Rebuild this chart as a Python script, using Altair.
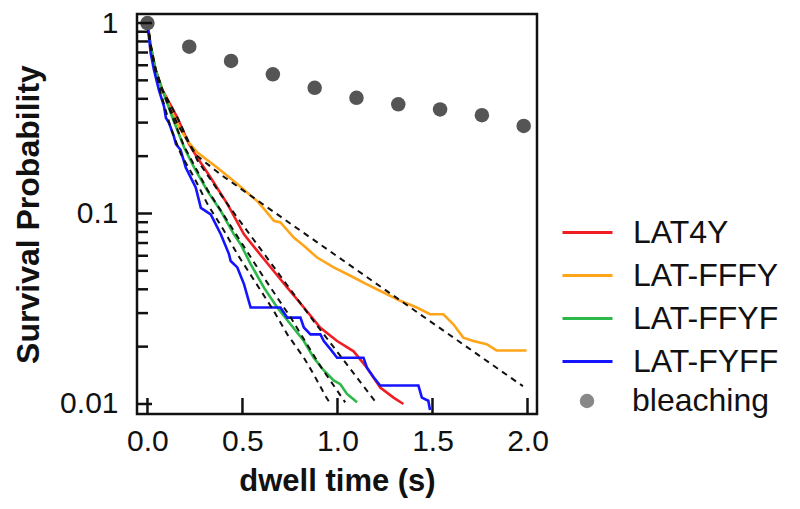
import altair as alt
import pandas as pd

# ---------------- data ----------------
series_names = ["LAT4Y", "LAT-FFFY", "LAT-FFYF", "LAT-FYFF"]
series_colors = ["#f01e23", "#ffa51a", "#2db84a", "#1414ff"]
bleach_name = ["bleaching"]
bleach_color = ["#555555"]

lat4y_t = [0.0, 0.017, 0.043, 0.078, 0.158, 0.219, 0.263, 0.333, 0.421, 0.508, 0.578, 0.648,
           0.736, 0.823, 0.910, 0.998, 1.085, 1.155, 1.225, 1.295, 1.347]
lat4y_p = [1.0, 0.755, 0.568, 0.447, 0.318, 0.231, 0.196, 0.154, 0.112, 0.0777, 0.0636, 0.0522,
           0.0408, 0.0321, 0.0251, 0.0214, 0.0189, 0.0155, 0.0122, 0.0108, 0.0100]

fffy_t = [0.0, 0.017, 0.043, 0.078, 0.122, 0.165, 0.211, 0.263, 0.368, 0.473, 0.578, 0.630,
          0.665, 0.700, 0.770, 0.823, 0.893, 0.980, 1.068, 1.155, 1.242, 1.330, 1.418, 1.487,
          1.557, 1.610, 1.662, 1.715, 1.785, 1.837, 1.995]
fffy_p = [1.0, 0.755, 0.568, 0.447, 0.351, 0.287, 0.240, 0.209, 0.174, 0.143, 0.116, 0.101,
          0.0915, 0.0898, 0.0748, 0.0677, 0.0587, 0.0521, 0.0471, 0.0425, 0.0385, 0.0348, 0.0321,
          0.0296, 0.0296, 0.0262, 0.0223, 0.0214, 0.0206, 0.0191, 0.0191]

ffyf_t = [0.0, 0.017, 0.043, 0.078, 0.132, 0.193, 0.246, 0.316, 0.386, 0.455, 0.491, 0.543,
          0.613, 0.683, 0.753, 0.823, 0.875, 0.928, 0.980, 1.015, 1.050, 1.103]
ffyf_p = [1.0, 0.755, 0.568, 0.447, 0.318, 0.222, 0.174, 0.131, 0.103, 0.0777, 0.0688, 0.0543,
          0.0408, 0.0321, 0.0262, 0.0214, 0.0175, 0.0150, 0.0133, 0.0127, 0.0113, 0.0102]

fyff_t = [0.0, 0.017, 0.034, 0.060, 0.087, 0.097, 0.113, 0.139, 0.150, 0.174, 0.202, 0.254,
          0.281, 0.333, 0.386, 0.429, 0.438, 0.473, 0.508, 0.543, 0.700, 0.736, 0.805, 0.823,
          0.858, 0.910, 0.928, 0.963, 0.998, 1.137, 1.155, 1.190, 1.225, 1.426, 1.444, 1.478, 1.487]
fyff_p = [1.0, 0.696, 0.569, 0.446, 0.365, 0.318, 0.299, 0.254, 0.231, 0.216, 0.174, 0.137,
          0.107, 0.0990, 0.0778, 0.0612, 0.0563, 0.0521, 0.0426, 0.0321, 0.0321, 0.0284, 0.0284,
          0.0252, 0.0232, 0.0232, 0.0214, 0.0194, 0.0175, 0.0175, 0.0155, 0.0138, 0.0125, 0.0125,
          0.0108, 0.0104, 0.0093]

# dashed fit curves
fit_lat4y_t = [0.0, 0.017, 0.043, 0.078, 0.158, 0.263, 0.421, 0.875, 1.199]
fit_lat4y_p = [1.0, 0.755, 0.568, 0.447, 0.318, 0.190, 0.112, 0.0272, 0.0103]
fit_fffy_t = [0.0, 0.017, 0.043, 0.078, 0.122, 0.165, 0.218, 0.263, 0.386, 0.744, 1.976]
fit_fffy_p = [1.0, 0.755, 0.568, 0.447, 0.351, 0.287, 0.234, 0.200, 0.160, 0.0897, 0.0124]
fit_ffyf_t = [0.0, 0.017, 0.043, 0.078, 0.132, 0.193, 0.316, 0.455, 0.613, 0.753, 0.910, 1.041]
fit_ffyf_p = [1.0, 0.755, 0.568, 0.447, 0.320, 0.225, 0.133, 0.081, 0.046, 0.0285, 0.0158, 0.0102]
fit_fyff_t = [0.0, 0.030, 0.070, 0.123, 0.176, 0.246, 0.316, 0.403, 0.473, 0.665, 0.736, 0.823,
              0.875, 0.937, 0.955]
fit_fyff_p = [1.0, 0.640, 0.430, 0.280, 0.205, 0.154, 0.112, 0.0812, 0.0612, 0.0308, 0.0232,
              0.0175, 0.0143, 0.0110, 0.0103]

bleach_t = [0.0, 0.22, 0.44, 0.66, 0.88, 1.10, 1.32, 1.54, 1.76, 1.98]
bleach_p = [1.0, 0.751, 0.632, 0.538, 0.457, 0.405, 0.374, 0.352, 0.328, 0.288]

x_ticks = [0.0, 0.5, 1.0, 1.5, 2.0]
y_major = [0.01, 0.1, 1.0]
y_minor = [0.02, 0.03, 0.04, 0.05, 0.06, 0.07, 0.08, 0.09,
           0.2, 0.3, 0.4, 0.5, 0.6, 0.7, 0.8, 0.9]

# ---------------- tables ----------------
def long(name, ts, ps):
    return pd.DataFrame({"series": name, "t": ts, "p": ps, "i": range(len(ts))})

curves = pd.concat([
    long("LAT4Y", lat4y_t, lat4y_p),
    long("LAT-FFFY", fffy_t, fffy_p),
    long("LAT-FFYF", ffyf_t, ffyf_p),
    long("LAT-FYFF", fyff_t, fyff_p),
])
fits = pd.concat([
    long("LAT4Y", fit_lat4y_t, fit_lat4y_p),
    long("LAT-FFFY", fit_fffy_t, fit_fffy_p),
    long("LAT-FFYF", fit_ffyf_t, fit_ffyf_p),
    long("LAT-FYFF", fit_fyff_t, fit_fyff_p),
])
bleach = pd.DataFrame({"t": bleach_t, "p": bleach_p, "lab": "bleaching"})
xt = pd.DataFrame({"t": x_ticks})
ymaj = pd.DataFrame({"p": y_major})
ymin = pd.DataFrame({"p": y_minor})

FONT = "Liberation Sans"
W, H = 400, 400

xscale = alt.Scale(domain=[-0.055, 2.05], nice=False, zero=False)
yscale = alt.Scale(type="log", domain=[0.00886, 1.115], nice=False)

x_enc = alt.X("t:Q", scale=xscale, axis=alt.Axis(
    values=x_ticks, format=".1f", title="dwell time (s)", grid=False, domain=False,
    tickSize=0, labelPadding=12, labelFontSize=30, labelFont=FONT, labelColor="#111",
    titleFontSize=31, titleFont=FONT, titleFontWeight="bold", titleColor="#111",
    titlePadding=10, labelFlush=False))
y_enc = alt.Y("p:Q", scale=yscale, axis=alt.Axis(
    values=y_major, format="~g", title="Survival Probability", grid=False, domain=False,
    tickSize=0, labelPadding=19, labelFontSize=30, labelFont=FONT, labelColor="#111",
    titleFontSize=32, titleFont=FONT, titleFontWeight="bold", titleColor="#111",
    titlePadding=14))

lines = alt.Chart(curves).mark_line(strokeWidth=2.6).encode(
    x=x_enc, y=y_enc, order="i:Q",
    color=alt.Color("series:N", scale=alt.Scale(domain=series_names, range=series_colors),
                    legend=alt.Legend(
                        title=None, orient="none", legendX=424, legendY=192, padding=0,
                        symbolType="stroke", symbolSize=2500, symbolStrokeWidth=3,
                        labelFontSize=32, labelFont=FONT, labelColor="#111",
                        labelOffset=19, rowPadding=-8, labelLimit=400)))

dashed = alt.Chart(fits).mark_line(strokeWidth=2, strokeDash=[6, 5], color="#111").encode(
    x="t:Q", y="p:Q", detail="series:N", order="i:Q")

dots = alt.Chart(bleach).mark_circle(size=210, opacity=1).encode(
    x="t:Q", y="p:Q",
    color=alt.Color("lab:N", scale=alt.Scale(domain=bleach_name, range=bleach_color),
                    legend=alt.Legend(
                        title=None, orient="none", legendX=434, legendY=371, padding=0,
                        symbolType="circle", symbolSize=210, symbolOpacity=0.7,
                        labelFontSize=32, labelFont=FONT, labelColor="#111",
                        labelOffset=29, labelLimit=400)))

xtick_rules = alt.Chart(xt).mark_rule(color="#111", strokeWidth=2.5).encode(
    x="t:Q", y=alt.value(H), y2=alt.value(H - 16))
ymaj_rules = alt.Chart(ymaj).mark_rule(color="#111", strokeWidth=2.5).encode(
    y="p:Q", x=alt.value(0), x2=alt.value(15))
ymin_rules = alt.Chart(ymin).mark_rule(color="#111", strokeWidth=2.5).encode(
    y="p:Q", x=alt.value(0), x2=alt.value(11))

chart = alt.layer(lines, dashed, dots, xtick_rules, ymaj_rules, ymin_rules).resolve_scale(
    color="independent"
).properties(
    width=W, height=H,
    autosize=alt.AutoSizeParams(type="none"),
    padding={"left": 129, "top": 6, "right": 255, "bottom": 87},
).configure_view(stroke="#111", strokeWidth=2.5)

chart.save("out.html", embed_options={"renderer": "svg", "actions": False})
